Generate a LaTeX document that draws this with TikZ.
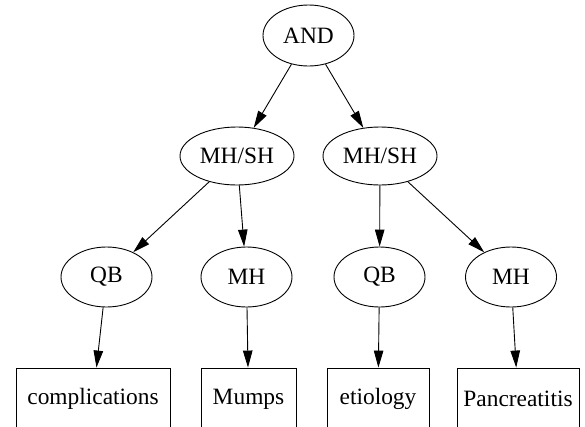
\documentclass[tikz,border=0pt]{standalone}
\usepackage{fontspec}
\setmainfont{Liberation Serif}
\usetikzlibrary{shapes.geometric,arrows.meta}
\begin{document}
\begin{tikzpicture}[x=1pt,y=-1pt,
  every node/.style={font=\fontsize{23.4}{28}\selectfont, inner sep=0pt, draw, line width=0.9pt},
  ell/.style={ellipse, minimum width=91pt, minimum height=60pt},
  wide/.style={ellipse, minimum width=114pt, minimum height=58pt},
  box/.style={rectangle, minimum height=62pt},
  link/.style={-{Triangle[length=17pt,width=9.5pt]}, line width=0.9pt}]
\useasboundingbox (0,0) rectangle (585,426);
\node[ell, minimum height=61pt] (and) at (308.5,35.5) {AND};
\node[wide] (ms1) at (237,156) {MH/SH};
\node[wide] (ms2) at (380,156) {MH/SH};
\node[ell] (qb1) at (106.5,277) {QB};
\node[ell] (mh1) at (246.5,277) {MH};
\node[ell] (qb2) at (379.5,277) {QB};
\node[ell] (mh2) at (511,277) {MH};
\node[box, minimum width=154pt] (c) at (93,399) {complications};
\node[box, minimum width=95pt] (m) at (248.5,399) {Mumps};
\node[box, minimum width=102pt] (e) at (378,399) {etiology};
\node[box, minimum width=122pt] (p) at (518,399) {Pancreatitis};
\draw[link] (and) -- (ms1);
\draw[link] (and) -- (ms2);
\draw[link] (ms1) -- (qb1);
\draw[link] (ms1) -- (mh1);
\draw[link] (ms2) -- (qb2);
\draw[link] (ms2) -- (mh2);
\draw[link] (qb1) -- (c);
\draw[link] (mh1) -- (m);
\draw[link] (qb2) -- (e);
\draw[link] (mh2) -- (p);
\end{tikzpicture}
\end{document}
